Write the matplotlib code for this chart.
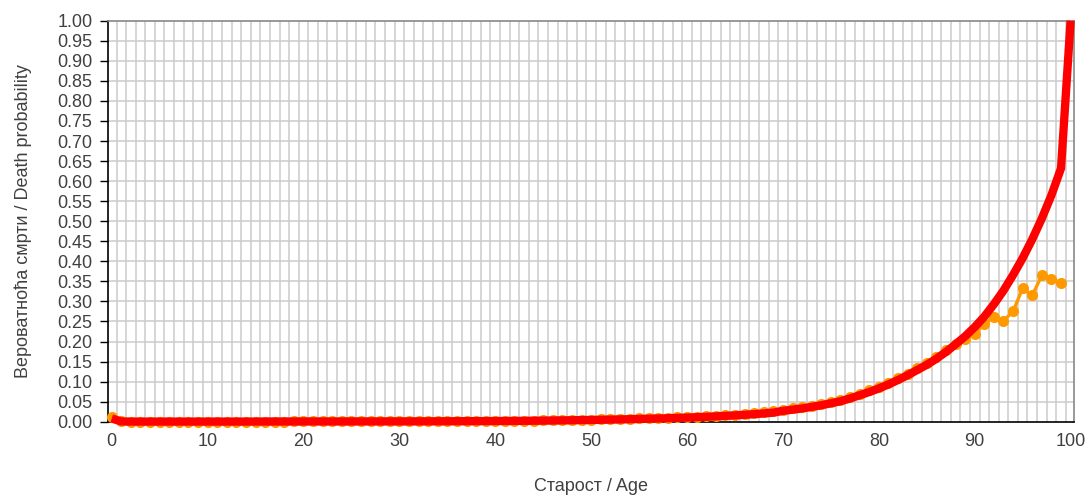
import matplotlib
matplotlib.use("Agg")
import matplotlib.pyplot as plt
import numpy as np
from matplotlib.ticker import MultipleLocator, FixedLocator, FormatStrFormatter

plt.rcParams['font.family'] = ['Liberation Sans', 'DejaVu Sans']

ages_obs = list(range(0, 100))
observed = [
    0.011, 0.0008, 0.0004, 0.0003, 0.0002, 0.0002, 0.0002, 0.0001, 0.0002, 0.0001,
    0.0001, 0.0002, 0.0002, 0.0002, 0.0003, 0.0003, 0.0004, 0.0005, 0.0005, 0.0006,
    0.0006, 0.0006, 0.0006, 0.0007, 0.0006, 0.0007, 0.0007, 0.0007, 0.0008, 0.0008,
    0.0008, 0.0009, 0.0009, 0.0010, 0.0011, 0.0012, 0.0013, 0.0014, 0.0016, 0.0017,
    0.0019, 0.0021, 0.0023, 0.0025, 0.0028, 0.0032, 0.0036, 0.0039, 0.0043, 0.0047,
    0.0052, 0.0057, 0.0062, 0.0068, 0.0074, 0.0080, 0.0087, 0.0094, 0.0101, 0.0110,
    0.0118, 0.0128, 0.0139, 0.0151, 0.0163, 0.0178, 0.0194, 0.0212, 0.0232, 0.0255,
    0.030, 0.033, 0.036, 0.040, 0.045, 0.050, 0.055, 0.062, 0.070, 0.078,
    0.087, 0.097, 0.108, 0.120, 0.133, 0.146, 0.161, 0.178, 0.193, 0.206,
    0.219, 0.244, 0.260, 0.252, 0.275, 0.333, 0.315, 0.365, 0.357, 0.346,
]

ages_fit = list(range(0, 101))
fitted = [
    0.008, 0.0006, 0.0003, 0.0003, 0.0003, 0.0003, 0.0003, 0.0003, 0.0003, 0.0003,
    0.0003, 0.0003, 0.0003, 0.0003, 0.0003, 0.0004, 0.0004, 0.0005, 0.0005, 0.0005,
    0.0006, 0.0006, 0.0006, 0.0006, 0.0006, 0.0007, 0.0007, 0.0007, 0.0007, 0.0008,
    0.0008, 0.0008, 0.0009, 0.0009, 0.0010, 0.0011, 0.0012, 0.0013, 0.0014, 0.0015,
    0.0017, 0.0018, 0.0020, 0.0022, 0.0024, 0.0027, 0.0030, 0.0033, 0.0036, 0.0040,
    0.0044, 0.0048, 0.0052, 0.0057, 0.0062, 0.0068, 0.0074, 0.0080, 0.0087, 0.0095,
    0.0103, 0.0112, 0.0122, 0.0133, 0.0145, 0.0158, 0.0172, 0.0188, 0.0206, 0.0226,
    0.027, 0.030, 0.033, 0.037, 0.041, 0.046, 0.051, 0.058, 0.066, 0.074,
    0.083, 0.093, 0.104, 0.116, 0.129, 0.142, 0.157, 0.174, 0.193, 0.213,
    0.236, 0.262, 0.293, 0.327, 0.366, 0.408, 0.455, 0.507, 0.565, 0.632,
    1.0,
]

x_major = [0, 10, 20, 30, 40, 50, 60, 70, 80, 90, 100]
x_label = "Старост / Age"
y_label = "Вероватноћа смрти / Death probability"

fig = plt.figure(figsize=(10.89, 4.97), dpi=100)
ax = fig.add_axes([0.0995, 0.1515, 0.8867, 0.8068])

text_color = "#404040"

ax.plot(ages_obs, observed, color="#FF9900", lw=2.4, marker="o", ms=8,
        markeredgewidth=0, zorder=3, clip_on=False)
ax.plot(ages_fit, fitted, color="#FF0000", lw=6, zorder=4,
        solid_capstyle="butt", solid_joinstyle="round", clip_on=False)

ax.set_xlim(-0.35, 100.35)
ax.set_ylim(0, 1.0)

ax.xaxis.set_major_locator(FixedLocator(x_major))
ax.yaxis.set_major_locator(MultipleLocator(0.05))
ax.yaxis.set_major_formatter(FormatStrFormatter('%.2f'))

ax.grid(False)
for xv in np.arange(0.5, 100, 1.0):
    ax.axvline(xv, color="#cccccc", lw=1.1, zorder=1)
for yv in np.arange(0.05, 1.0, 0.05):
    ax.axhline(yv, color="#cccccc", lw=1.1, zorder=1)

ax.tick_params(axis='x', which='both', length=0, pad=8, labelsize=13, labelcolor=text_color)
ax.tick_params(axis='y', which='major', length=5.5, width=1, direction='out',
               pad=6, labelsize=13, labelcolor=text_color, color="#000000")

for s in ['left', 'bottom']:
    ax.spines[s].set_color("#000000")
    ax.spines[s].set_linewidth(1.2)
for s in ['top', 'right']:
    ax.spines[s].set_color("#888888")
    ax.spines[s].set_linewidth(1.2)

ax.set_xlabel(x_label, fontsize=13, color=text_color, labelpad=20)
ax.set_ylabel(y_label, fontsize=13, color=text_color, labelpad=18)

fig.savefig("out.png", dpi=100)
